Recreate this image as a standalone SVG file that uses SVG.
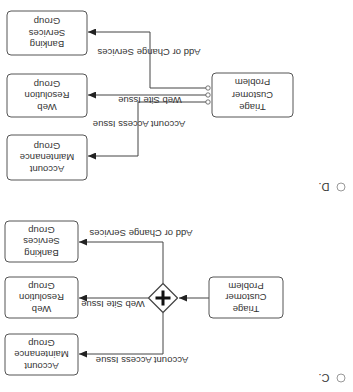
<svg xmlns="http://www.w3.org/2000/svg" width="353" height="392" viewBox="0 0 353 392">
<style>
.box{fill:#fff;stroke:#555;stroke-width:1}
.ln{fill:none;stroke:#444;stroke-width:1}
.t{font-family:"Liberation Sans",Arial,sans-serif;font-size:9.5px;fill:#333;text-anchor:middle;dominant-baseline:central}
.opt{font-family:"Liberation Sans",Arial,sans-serif;font-size:11px;fill:#333;text-anchor:middle;dominant-baseline:central}
.radio{fill:#fff;stroke:#999;stroke-width:1}
.port{fill:#fff;stroke:#555;stroke-width:0.8}
</style>
<defs>
<marker id="arr" markerUnits="userSpaceOnUse" markerWidth="8" markerHeight="7" refX="8" refY="3.5" orient="auto">
<path d="M0,0 L8,3.5 L0,7 z" fill="#222"/>
</marker>
</defs>
<rect width="353" height="392" fill="#fff"/>

<!-- Option D -->
<g id="connectors-d">
<path class="ln" d="M206 88 H150 V32 H88" marker-end="url(#arr)"/>
<path class="ln" d="M206 95 H88" marker-end="url(#arr)"/>
<path class="ln" d="M206 102 H138 V156 H88" marker-end="url(#arr)"/>
<circle class="port" cx="208" cy="88" r="2.2"/>
<circle class="port" cx="208" cy="95" r="2.2"/>
<circle class="port" cx="208" cy="102" r="2.2"/>
<text class="t" x="149" y="52" transform="rotate(180 149 52)">Add or Change Services</text>
<text class="t" x="150" y="100" transform="rotate(180 150 100)">Web Site Issue</text>
<text class="t" x="139" y="124" transform="rotate(180 139 124)">Account Access Issue</text>
</g>
<g id="d-triage">
<rect class="box" x="212" y="73" width="81" height="44" rx="4"/>
<g transform="rotate(180 252.5 95)">
<text class="t" x="252.5" y="82.5">Triage</text>
<text class="t" x="252.5" y="95">Customer</text>
<text class="t" x="252.5" y="107.5">Problem</text>
</g>
</g>
<g id="d-banking">
<rect class="box" x="7" y="11" width="80" height="44" rx="4"/>
<g transform="rotate(180 47 33)">
<text class="t" x="47" y="21.5">Banking</text>
<text class="t" x="47" y="33">Services</text>
<text class="t" x="47" y="44.5">Group</text>
</g>
</g>
<g id="d-web">
<rect class="box" x="7" y="74" width="80" height="43" rx="4"/>
<g transform="rotate(180 47 95.5)">
<text class="t" x="47" y="84">Web</text>
<text class="t" x="47" y="95.5">Resolution</text>
<text class="t" x="47" y="107">Group</text>
</g>
</g>
<g id="d-account">
<rect class="box" x="7" y="135" width="80" height="45" rx="4"/>
<g transform="rotate(180 47 157.5)">
<text class="t" x="47" y="146">Account</text>
<text class="t" x="47" y="157.5">Maintenance</text>
<text class="t" x="47" y="169">Group</text>
</g>
</g>
<g id="option-d">
<circle class="radio" cx="341" cy="187" r="4"/>
<text class="opt" x="324" y="187" transform="rotate(180 324 187)">D.</text>
</g>

<!-- Option C -->
<g id="connectors-c">
<path class="ln" d="M209 298 H179" marker-end="url(#arr)"/>
<path class="ln" d="M163 283 V242 H79" marker-end="url(#arr)"/>
<path class="ln" d="M148 298 H79" marker-end="url(#arr)"/>
<path class="ln" d="M163 313 V354 H79" marker-end="url(#arr)"/>
<text class="t" x="141" y="233" transform="rotate(180 141 233)">Add or Change Services</text>
<text class="t" x="113" y="304" transform="rotate(180 113 304)">Web Site Issue</text>
<text class="t" x="142" y="360" transform="rotate(180 142 360)">Account Access Issue</text>
</g>
<g id="c-gateway">
<path d="M163 283.5 L177.5 298 L163 312.5 L148.5 298 Z" fill="#fff" stroke="#444" stroke-width="1.2" stroke-linejoin="round"/>
<path d="M163 290.5 V305.5 M155.5 298 H170.5" stroke="#111" stroke-width="3"/>
</g>
<g id="c-triage">
<rect class="box" x="209" y="277" width="74" height="41" rx="4"/>
<g transform="rotate(180 246 297.5)">
<text class="t" x="246" y="286">Triage</text>
<text class="t" x="246" y="297.5">Customer</text>
<text class="t" x="246" y="309">Problem</text>
</g>
</g>
<g id="c-banking">
<rect class="box" x="5" y="221" width="73" height="41" rx="4"/>
<g transform="rotate(180 41.5 241.5)">
<text class="t" x="41.5" y="230">Banking</text>
<text class="t" x="41.5" y="241.5">Services</text>
<text class="t" x="41.5" y="253">Group</text>
</g>
</g>
<g id="c-web">
<rect class="box" x="5" y="277" width="73" height="41" rx="4"/>
<g transform="rotate(180 41.5 297.5)">
<text class="t" x="41.5" y="286">Web</text>
<text class="t" x="41.5" y="297.5">Resolution</text>
<text class="t" x="41.5" y="309">Group</text>
</g>
</g>
<g id="c-account">
<rect class="box" x="5" y="334" width="73" height="41" rx="4"/>
<g transform="rotate(180 41.5 354.5)">
<text class="t" x="41.5" y="343">Account</text>
<text class="t" x="41.5" y="354.5">Maintenance</text>
<text class="t" x="41.5" y="366">Group</text>
</g>
</g>
<g id="option-c">
<circle class="radio" cx="341" cy="378" r="4"/>
<text class="opt" x="324" y="378" transform="rotate(180 324 378)">C.</text>
</g>
</svg>
